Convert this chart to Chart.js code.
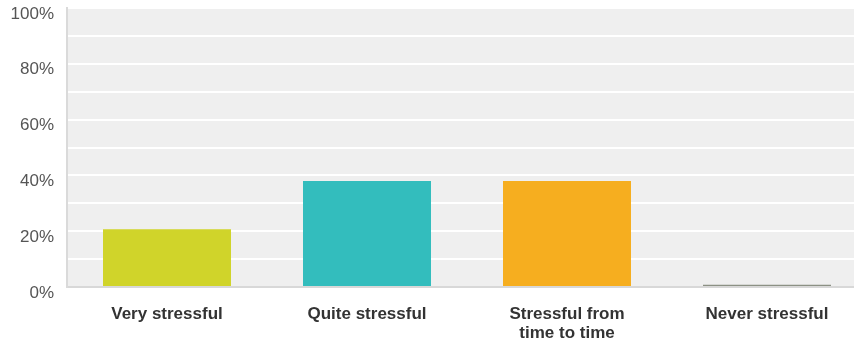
<!DOCTYPE html>
<html>
<head>
<meta charset="utf-8">
<script src="https://cdn.jsdelivr.net/npm/chart.js@4"></script>
<style>
  html, body { margin: 0; padding: 0; background: #fff; overflow: hidden; }
  canvas { display: block; }
</style>
</head>
<body>
<canvas id="mychart" width="867" height="343"></canvas>
<script>
// data
let categories = ['Very stressful', 'Quite stressful', ['Stressful from', 'time to time'], 'Never stressful'];
let percents = [20.7, 38, 38, 0.8];
let barColors = ['#d0d42a', '#33bdbd', '#f6ae1f', '#8c9184'];
let yTicks = [0, 20, 40, 60, 80, 100];

// grey plot background
const plotBg = {
  id: 'plotBg',
  beforeDraw(chart) {
    let a = chart.chartArea;
    let ctx = chart.ctx;
    ctx.save();
    ctx.fillStyle = '#efefef';
    ctx.fillRect(a.left, a.top, a.right - a.left, a.bottom - a.top);
    ctx.restore();
  }
};

let myChart = document.getElementById('mychart').getContext('2d');
let stressChart = new Chart(myChart, {
  type: 'bar',
  data: {
    labels: categories,
    datasets: [
      {
        label: 'Responses',
        data: percents,
        backgroundColor: barColors,
        borderWidth: 0,
        categoryPercentage: 1,
        barPercentage: 0.64
      }
    ]
  },
  options: {
    responsive: false,
    animation: false,
    layout: { padding: { top: 8, left: 0, right: 0, bottom: 0 } },
    scales: {
      x: {
        grid: { display: false, drawTicks: false },
        border: { display: true, color: '#d8d8d8', width: 2 },
        ticks: {
          color: '#333',
          padding: 18,
          font: { family: 'Liberation Sans, Arial, sans-serif', size: 17, weight: 'bold', lineHeight: 1.1 }
        },
        afterFit(scale) {
          scale.height = 56;
          scale.paddingLeft = 0;
          scale.paddingRight = 0;
        }
      },
      y: {
        min: 0,
        max: 100,
        grid: { color: '#ffffff', lineWidth: 2, drawTicks: false },
        border: { display: true, color: '#dadada', width: 2 },
        ticks: {
          stepSize: 10,
          color: '#555',
          padding: 13,
          labelOffset: 6,
          font: { family: 'Liberation Sans, Arial, sans-serif', size: 17 },
          callback: function (v) { return yTicks.includes(v) ? v + '%' : ''; }
        },
        afterFit(scale) {
          scale.width = 67;
          scale.paddingTop = 0;
          scale.paddingBottom = 0;
        }
      }
    },
    plugins: {
      legend: { display: false },
      tooltip: { enabled: false }
    }
  },
  plugins: [plotBg]
});
</script>
</body>
</html>
